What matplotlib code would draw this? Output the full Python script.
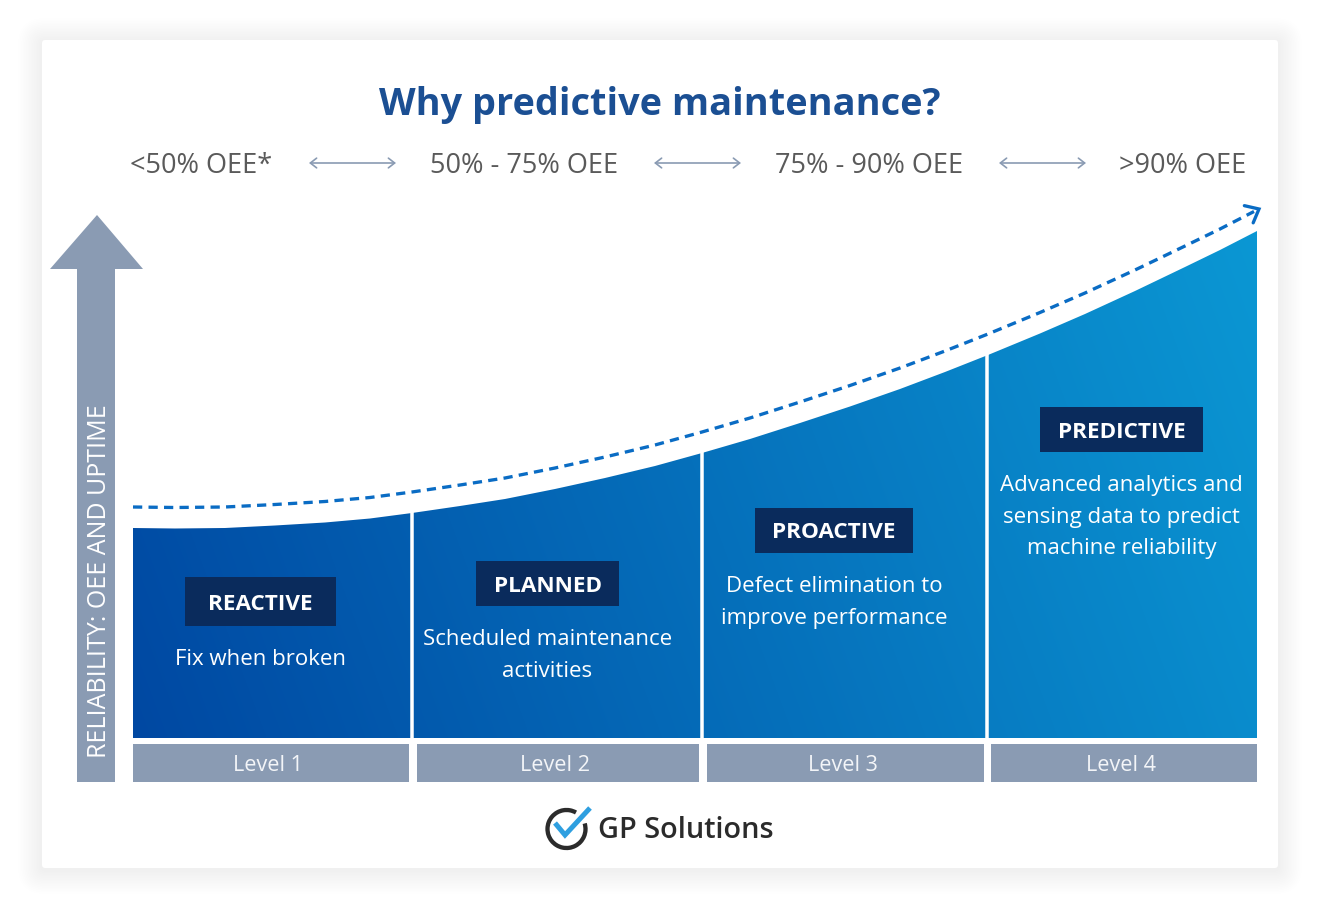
import numpy as np
import matplotlib
matplotlib.use("Agg")
import matplotlib.pyplot as plt
from matplotlib.patches import Rectangle, Polygon, FancyBboxPatch, Arc
from matplotlib.transforms import offset_copy

plt.rcParams['font.family'] = ['Open Sans', 'DejaVu Sans']

# ---------------- data ----------------
title = "Why predictive maintenance?"
oee_ranges = ["<50% OEE*", "50% - 75% OEE", "75% - 90% OEE", ">90% OEE"]
stages = ["REACTIVE", "PLANNED", "PROACTIVE", "PREDICTIVE"]
descriptions = [
    ["Fix when broken"],
    ["Scheduled maintenance", "activities"],
    ["Defect elimination to", "improve performance"],
    ["Advanced analytics and", "sensing data to predict", "machine reliability"],
]
levels = ["Level 1", "Level 2", "Level 3", "Level 4"]
axis_label = "RELIABILITY: OEE AND UPTIME"
brand = "GP Solutions"
# reliability curve (pixel space of the 1326x918 canvas)
curve_x = [133, 175, 225, 275, 325, 370, 412, 460, 505, 555, 605, 655, 702,
           750, 800, 850, 900, 945, 988, 1040, 1085, 1135, 1185, 1220, 1257]
curve_y = [528, 528.5, 528, 525.5, 522.5, 518.5, 513, 506, 499, 489, 478, 466, 453,
           439, 423, 406.5, 389, 372, 355, 333.5, 314, 291, 267, 250, 231]

# ---------------- layout / style ----------------
W, H = 1326, 918
fig = plt.figure(figsize=(W / 100, H / 100), dpi=100, facecolor="white")
ax = fig.add_axes([0, 0, 1, 1])
PT = 0.72  # points per pixel

GRAY = "#8A9BB3"
NAVY = "#0A2B5C"
TXT_GRAY = "#5A5A5A"
TITLE_C = "#1B4F93"
DASH_C = "#0A6CC4"

# card with soft shadow
for k in range(1, 16):
    ax.add_patch(FancyBboxPatch((42 - 1.6 * k, 40 - 1.6 * k + 2), 1236 + 3.2 * k, 828 + 3.2 * k,
                                boxstyle="round,pad=0,rounding_size=%g" % (3 + 1.6 * k),
                                fc="black", ec="none", alpha=0.0045, zorder=0.5))
ax.add_patch(FancyBboxPatch((42, 40), 1236, 828, boxstyle="round,pad=0,rounding_size=3",
                            fc="white", ec="none", zorder=1))

# title
ax.text(660, 115, title, ha="center", va="baseline", fontsize=27.3, fontweight="bold",
        color=TITLE_C, zorder=5)

# OEE ranges and double arrows
oee_cx = [201, 524, 869, 1183]
for cx, lab in zip(oee_cx, oee_ranges):
    ax.text(cx, 173, lab, ha="center", va="baseline", fontsize=19.5, color=TXT_GRAY, zorder=5)
for x0, x1 in [(309, 396), (654, 741), (999, 1086)]:
    ax.annotate("", xy=(x1, 163), xytext=(x0, 163),
                arrowprops=dict(arrowstyle="<->,head_length=0.45,head_width=0.35",
                                color=GRAY, lw=1.2, shrinkA=0, shrinkB=0,
                                mutation_scale=10), zorder=5)

# vertical reliability arrow
ax.add_patch(Polygon([(77, 782), (77, 269), (50, 269), (97, 215), (143, 269), (115, 269), (115, 782)],
                     closed=True, fc=GRAY, ec="none", zorder=2))
ax.text(106, 758, axis_label, rotation=90, rotation_mode="anchor", ha="left", va="baseline",
        fontsize=18, color="white", zorder=5)

# gradient area under reliability curve
x0, x1, ytop, ybot = 133, 1257, 200, 738
nx, ny = 400, 200
gx = np.linspace(0, 1, nx)[None, :]
gy = np.linspace(1, 0, ny)[:, None]  # 1 at top
t = np.clip(0.85 * gx + 0.15 * gy, 0, 1)
c0 = np.array([0x00, 0x48, 0xA2]) / 255.0
c1 = np.array([0x0B, 0x98, 0xD4]) / 255.0
rgb = c0[None, None, :] * (1 - t[..., None]) + c1[None, None, :] * t[..., None]
im = ax.imshow(rgb, extent=(x0, x1, ybot, ytop), origin="upper", aspect="auto",
               interpolation="bilinear", zorder=2)
verts = [(x0, ybot)] + list(zip(curve_x, curve_y)) + [(x1, ybot)]
clip = Polygon(verts, closed=True, transform=ax.transData)
im.set_clip_path(clip)

# white separators between stages
for xs in [412.3, 702, 986.8]:
    ax.plot([xs, xs], [ybot + 2, ytop - 10], color="white", lw=3.5 * PT, zorder=3,
            solid_capstyle="butt")

# dashed trend line with chevron head (offset above the curve)
tr = offset_copy(ax.transData, fig=fig, x=0, y=21 * PT, units="points")
cx = np.array(curve_x, float)
cy = np.array(curve_y, float)
ax.plot(cx[:-1].tolist() + [cx[-1] - 3], cy[:-1].tolist() + [cy[-1] + 1.5], color=DASH_C,
        lw=3.3 * PT, dashes=(2.8, 1.9), transform=tr, zorder=4, solid_capstyle="butt")
d = np.array([cx[-1] - cx[-2], cy[-1] - cy[-2]])
d = d / np.hypot(*d)
tip = np.array([cx[-1] + 2, cy[-1] - 1])
rev = -d
arms = []
for ang in (40, -40):
    a = np.deg2rad(ang)
    R = np.array([[np.cos(a), -np.sin(a)], [np.sin(a), np.cos(a)]])
    arms.append(tip + 15 * (R @ rev))
ax.plot([arms[0][0], tip[0], arms[1][0]], [arms[0][1], tip[1], arms[1][1]], color=DASH_C,
        lw=3.3 * PT, transform=tr, zorder=4, solid_capstyle="round", solid_joinstyle="miter")

# badges and descriptions
badges = [(185, 577, 151, 49), (476, 561, 143, 45), (755, 508, 158, 45), (1040, 407, 163, 45)]
desc_base = [665, 645, 592, 491]
for (bx, by, bw, bh), name, lines, b0 in zip(badges, stages, descriptions, desc_base):
    ax.add_patch(Rectangle((bx, by), bw, bh, fc=NAVY, ec="none", zorder=5))
    ax.text(bx + bw / 2, by + bh / 2 + 8, name, ha="center", va="baseline", fontsize=16.2,
            fontweight="bold", color="white", zorder=6)
    for i, ln in enumerate(lines):
        ax.text(bx + bw / 2, b0 + 31.6 * i, ln, ha="center", va="baseline", fontsize=16,
                color="white", zorder=6)

# level bars
for (lx0, lx1), lab in zip([(133, 408.5), (416.5, 698.5), (707, 983.5), (991, 1257)], levels):
    ax.add_patch(Rectangle((lx0, 744), lx1 - lx0, 37.5, fc=GRAY, ec="none", zorder=2))
    ax.text((lx0 + lx1) / 2 - 2.5, 771, lab, ha="center", va="baseline", fontsize=15.6,
            color="#F3F5F8", zorder=6)

# brand logo
ax.add_patch(Arc((566.5, 829), 38, 38, theta1=-17, theta2=300, color="#2B2B2B",
                 lw=4.3 * PT, zorder=6))
ax.plot([555, 565, 590], [823, 835, 808], color="#2E9FE0", lw=5 * PT, zorder=7,
        solid_capstyle="butt", solid_joinstyle="miter")
ax.text(598, 838.5, brand, ha="left", va="baseline", fontsize=20.8, fontweight="semibold",
        color="#2B2B2B", zorder=6)

ax.set_xlim(0, W)
ax.set_ylim(H, 0)
ax.axis("off")
fig.savefig("out.png", dpi=100, facecolor="white")
